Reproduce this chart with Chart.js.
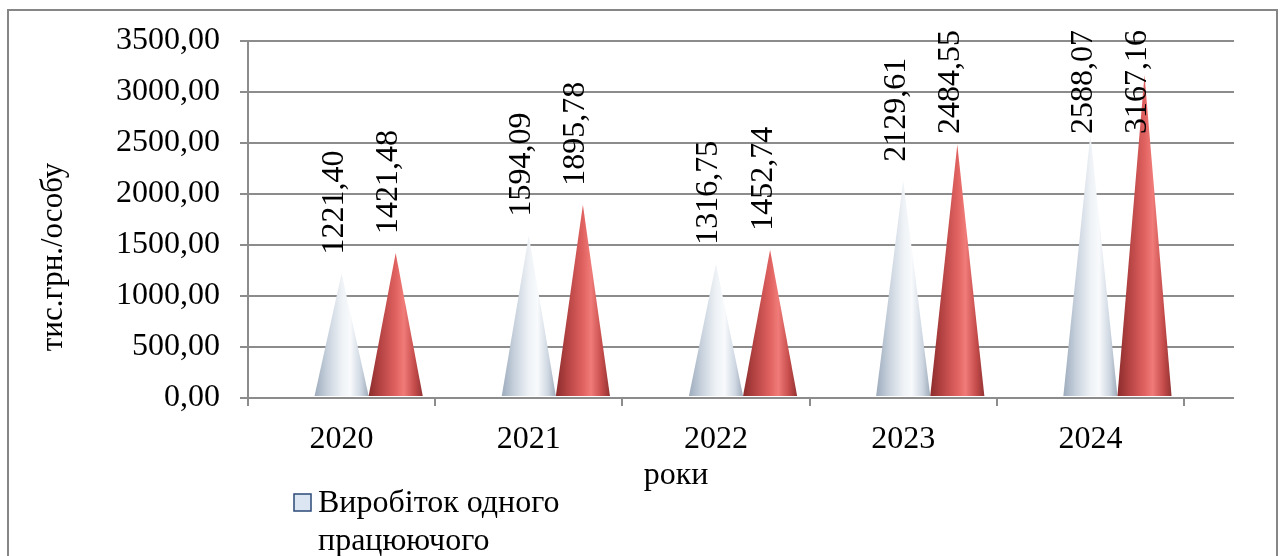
<!DOCTYPE html>
<html>
<head>
<meta charset="utf-8">
<script src="https://cdn.jsdelivr.net/npm/chart.js@4.4.1/dist/chart.umd.min.js"></script>
<style>
  html, body { margin: 0; padding: 0; background: #fff; overflow: hidden; }
  canvas { display: block; }
</style>
</head>
<body>
<canvas id="chart" width="1280" height="556"></canvas>
<script>
const YEARS = ['2020', '2021', '2022', '2023', '2024'];
const OUTPUT_PER_WORKER = [1221.40, 1594.09, 1316.75, 2129.61, 2588.07];
const SECOND_SERIES = [1421.48, 1895.78, 1452.74, 2484.55, 3167.16];
const SERIES_NAMES = ['Виробіток одного працюючого', 'Серія 2'];
const Y_TICKS = [0, 500, 1000, 1500, 2000, 2500, 3000, 3500];
const Y_TITLE = 'тис.грн./особу';
const X_TITLE = 'роки';

const FONT = '"Liberation Serif", "Times New Roman", serif';
const GRID = '#8c8c8c';
const BACK_DEPTH = 50; // how far the back wall lines run past the last category

const fmt = (v) => v.toFixed(2).replace('.', ',');

const coneColors = [
  [[0, '#9dabbc'], [0.22, '#c5cfdb'], [0.5, '#eef2f6'], [0.66, '#f8fafc'], [0.86, '#cdd6e1'], [1, '#9fabba']],
  [[0, '#8c2d2d'], [0.2, '#b24141'], [0.5, '#e06260'], [0.65, '#f07b78'], [0.85, '#c54c4b'], [1, '#933333']]
];

// horizontal grid lines, drawn out to the back wall
const backGrid = {
  id: 'backGrid',
  beforeDatasetsDraw(chart) {
    const { ctx, chartArea, scales } = chart;
    ctx.save();
    ctx.strokeStyle = GRID;
    ctx.lineWidth = 2;
    Y_TICKS.forEach((t) => {
      const y = Math.round(scales.y.getPixelForValue(t));
      ctx.beginPath();
      ctx.moveTo(chartArea.left, y);
      ctx.lineTo(chartArea.right + BACK_DEPTH, y);
      ctx.stroke();
    });
    ctx.restore();
  }
};

// cones in place of bars, plus rotated value labels
const cones = {
  id: 'cones',
  afterDatasetsDraw(chart) {
    const { ctx } = chart;
    ctx.save();
    chart.data.datasets.forEach((ds, di) => {
      const meta = chart.getDatasetMeta(di);
      meta.data.forEach((el) => {
        const cx = el.x + el.width / 2;
        const left = cx - el.width / 2;
        const right = cx + el.width / 2;
        const base = el.base - 1;
        const g = ctx.createLinearGradient(left, 0, right, 0);
        coneColors[di].forEach(([o, c]) => g.addColorStop(o, c));
        ctx.fillStyle = g;
        ctx.beginPath();
        ctx.moveTo(left, base);
        ctx.lineTo(cx, el.y);
        ctx.lineTo(right, base);
        ctx.closePath();
        ctx.fill();
      });
    });

    ctx.font = '32px ' + FONT;
    ctx.fillStyle = '#000';
    ctx.textAlign = 'left';
    ctx.textBaseline = 'middle';
    chart.data.datasets.forEach((ds, di) => {
      const meta = chart.getDatasetMeta(di);
      meta.data.forEach((el, i) => {
        const text = fmt(ds.data[i]);
        const w = ctx.measureText(text).width;
        const cx = el.x + el.width / 2 - 7;
        let y = el.y - 19;
        if (y - w < 30) y = 30 + w;
        ctx.save();
        ctx.translate(cx, y);
        ctx.rotate(-Math.PI / 2);
        ctx.fillText(text, 0, 0);
        ctx.restore();
      });
    });
    ctx.restore();
  }
};

// frame, axis titles and the legend
const decor = {
  id: 'decor',
  afterDraw(chart) {
    const { ctx } = chart;
    ctx.save();
    ctx.strokeStyle = '#868686';
    ctx.lineWidth = 2;
    ctx.strokeRect(8, 10, 1269, 600);

    ctx.fillStyle = '#000';
    ctx.font = '32px ' + FONT;
    ctx.textAlign = 'center';
    ctx.textBaseline = 'middle';
    ctx.fillText(X_TITLE, 676, 476);

    ctx.font = '31px ' + FONT;
    ctx.save();
    ctx.translate(54, 257);
    ctx.rotate(-Math.PI / 2);
    ctx.fillText(Y_TITLE, 0, 0);
    ctx.restore();

    // legend: only the first entry fits in the frame
    ctx.fillStyle = '#dce6f2';
    ctx.fillRect(294, 494, 17, 17);
    ctx.strokeStyle = '#2b4a78';
    ctx.lineWidth = 1.5;
    ctx.strokeRect(294, 494, 17, 17);

    ctx.fillStyle = '#000';
    ctx.font = '32px ' + FONT;
    ctx.textAlign = 'left';
    const words = SERIES_NAMES[0].split(' ');
    const lines = [];
    let line = '';
    words.forEach((w) => {
      const test = line ? line + ' ' + w : w;
      if (ctx.measureText(test).width > 270 && line) {
        lines.push(line);
        line = w;
      } else {
        line = test;
      }
    });
    lines.push(line);
    lines.forEach((l, i) => ctx.fillText(l, 318, 504 + i * 38));
    ctx.restore();
  }
};

new Chart(document.getElementById('chart'), {
  type: 'bar',
  data: {
    labels: YEARS,
    datasets: [
      { label: SERIES_NAMES[0], data: OUTPUT_PER_WORKER, backgroundColor: 'rgba(0,0,0,0)', borderWidth: 0 },
      { label: SERIES_NAMES[1], data: SECOND_SERIES, backgroundColor: 'rgba(0,0,0,0)', borderWidth: 0 }
    ]
  },
  options: {
    responsive: false,
    animation: false,
    devicePixelRatio: 1,
    layout: { padding: { left: 0, top: 41, right: 96, bottom: 0 } },
    datasets: {
      bar: { categoryPercentage: 0.578, barPercentage: 1 }
    },
    plugins: {
      legend: { display: false },
      tooltip: { enabled: false }
    },
    scales: {
      x: {
        afterFit: (s) => { s.height = 158; },
        grid: { drawOnChartArea: false, drawTicks: true, tickLength: 8, color: GRID, lineWidth: 2, offset: true },
        border: { display: true, color: GRID, width: 2 },
        ticks: { font: { family: FONT, size: 32 }, color: '#000', padding: 14 }
      },
      y: {
        min: 0,
        max: 3500,
        afterFit: (s) => { s.width = 248; },
        afterBuildTicks: (s) => { s.ticks = Y_TICKS.map((v) => ({ value: v })); },
        grid: { drawOnChartArea: false, drawTicks: true, tickLength: 8, color: GRID, lineWidth: 2 },
        border: { display: true, color: GRID, width: 2 },
        ticks: {
          font: { family: FONT, size: 32 },
          color: '#000',
          padding: 20,
          callback: (v) => fmt(v)
        }
      }
    }
  },
  plugins: [backGrid, cones, decor]
});
</script>
</body>
</html>
